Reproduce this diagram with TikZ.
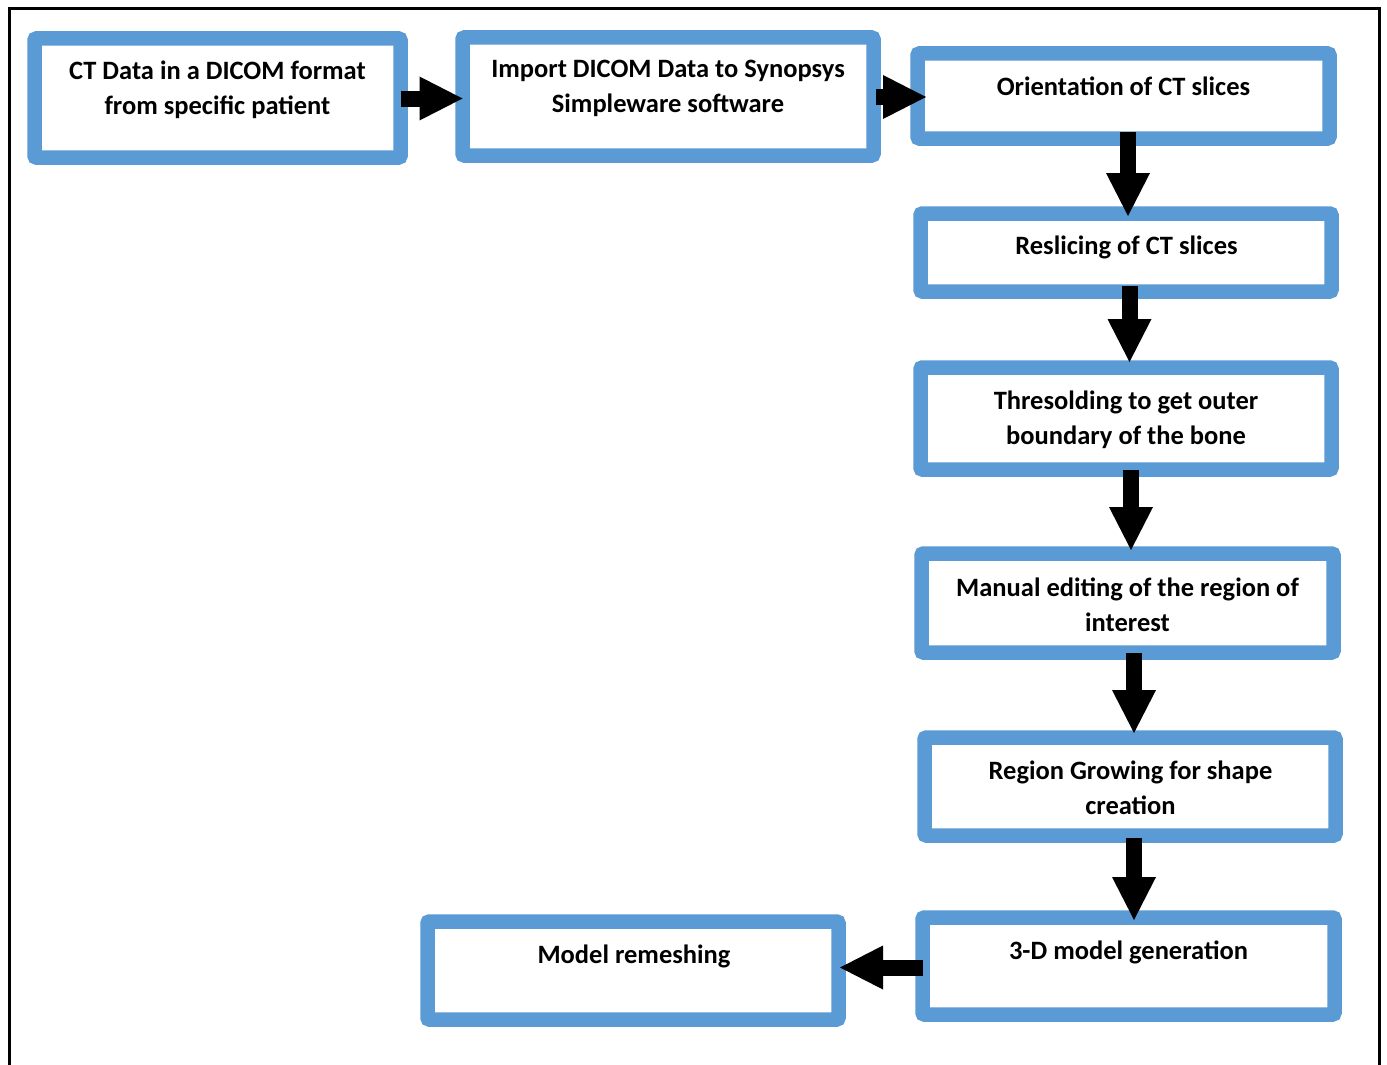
\documentclass[tikz,border=0pt]{standalone}
\usepackage{fontspec}
\setmainfont{Carlito}
\usetikzlibrary{arrows.meta,calc}
\definecolor{boxblue}{HTML}{5B9BD5}
\begin{document}
\begin{tikzpicture}[x=1pt,y=-1pt,
  box/.style={draw=boxblue, line width=14.5pt, fill=white, rounded corners=2pt, inner sep=0pt, outer sep=0pt},
  txt/.style={font=\fontsize{26.5}{35}\selectfont\bfseries, align=center, inner sep=0pt, anchor=base, yshift=-1.5pt},
  barrow/.style={line width=16pt, draw=black, -{Triangle[length=43pt, width=44pt, line width=0pt]}}]
\useasboundingbox (0,0) rectangle (1387,1065);
\fill[white] (0,0) rectangle (1387,1065);
\draw[line width=3pt, line join=miter] (9.5,1066) -- (9.5,8.5) -- (1379,8.5) -- (1379,1066);
% boxes
\node[box, minimum width=366pt, minimum height=119pt] (b1) at (217.5,98) {};
\node[box, minimum width=411pt, minimum height=118pt] (b2) at (668,96.5) {};
\node[box, minimum width=412pt, minimum height=85pt] (b3) at (1123.5,96) {};
\node[box, minimum width=411pt, minimum height=78pt] (b4) at (1126,252.5) {};
\node[box, minimum width=411pt, minimum height=102pt] (b5) at (1126,418.5) {};
\node[box, minimum width=412pt, minimum height=99pt] (b6) at (1127.5,603) {};
\node[box, minimum width=411pt, minimum height=98pt] (b7) at (1130,786.5) {};
\node[box, minimum width=412pt, minimum height=97pt] (b8) at (1128.5,966) {};
\node[box, minimum width=411pt, minimum height=98pt] (b9) at (633,970.5) {};
% texts (anchor = baseline of last line)
\node[txt] (t1) at (217.5,113) {CT Data in a DICOM format\\from specific patient};
\node[txt] (t2) at (668,111) {Import DICOM Data to Synopsys\\Simpleware software};
\node[txt] (t3) at (1123.5,94) {Orientation of CT slices};
\node[txt] (t4) at (1126.5,253) {Reslicing of CT slices};
\node[txt] (t5) at (1126,443) {Thresolding to get outer\\boundary of the bone};
\node[txt] (t6) at (1127.5,630) {Manual editing of the region of\\interest};
\node[txt] (t7) at (1130.5,813) {Region Growing for shape\\creation};
\node[txt] (t8) at (1128.5,958) {3-D model generation};
\node[txt] (t9) at (634,962) {Model remeshing};
% arrows
\draw[barrow] ([yshift=-0.5pt]b1.east) -- ([yshift=-2pt]b2.west);
\draw[barrow] ([xshift=2.5pt,yshift=-0.5pt]b2.east) -- ([xshift=8.5pt,yshift=-1pt]b3.west);
\draw[barrow] ([xshift=4.5pt,yshift=7pt]b3.south) -- ([xshift=2pt,yshift=-2.5pt]b4.north);
\draw[barrow] ([xshift=3.5pt,yshift=5.5pt]b4.south) -- ([xshift=3.5pt,yshift=5.5pt]b5.north);
\draw[barrow] ([xshift=5pt]b5.south) -- ([xshift=3.5pt,yshift=3.5pt]b6.north);
\draw[barrow] ([xshift=6.5pt]b6.south) -- ([xshift=4pt,yshift=4.5pt]b7.north);
\draw[barrow] ([xshift=4pt,yshift=-2.5pt]b7.south) -- ([xshift=5.5pt,yshift=-2.5pt]b8.north);
\draw[barrow] ([yshift=-1.5pt]b8.west) -- ([xshift=1.5pt,yshift=3pt]b9.east);
\end{tikzpicture}
\end{document}
